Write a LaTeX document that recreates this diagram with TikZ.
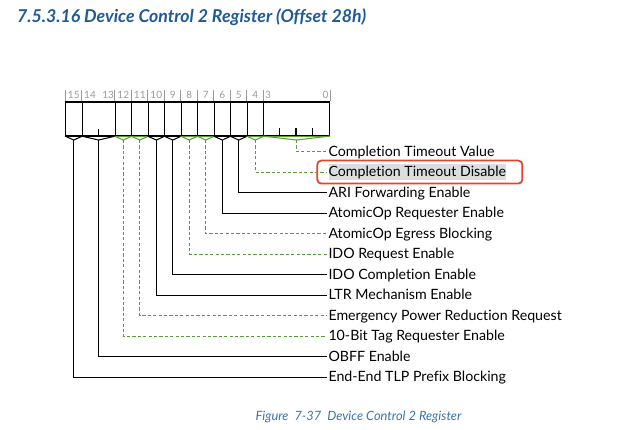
\documentclass[tikz,border=0pt]{standalone}
\usepackage{fontspec}
\setmainfont{Lato}[Ligatures={NoCommon}]
\usetikzlibrary{calc}
\definecolor{titleblue}{HTML}{1F5A96}
\definecolor{capblue}{HTML}{3A73AE}
\definecolor{rsvgreen}{HTML}{5A9A38}
\definecolor{hlred}{HTML}{E2462E}
\definecolor{bitgray}{HTML}{9A9A9A}
\definecolor{selgray}{HTML}{DDDDDD}
\begin{document}
\begin{tikzpicture}[x=1pt,y=-1pt,
  lw/.style={line width=1.05pt},
  sld/.style={solid},
  dsh/.style={dash pattern=on 3.2pt off 2.2pt},
  cellbox/.style={draw=black, lw, minimum height=33.5pt, inner sep=0pt, anchor=north west},
  bitnum/.style={text=bitgray, font=\fontsize{10}{10}\selectfont, inner sep=0pt},
  lblplain/.style={anchor=west, inner xsep=0pt, inner ysep=0pt, text height=13pt, text depth=3.3pt, font=\fontsize{14.2}{16}\selectfont},
  lblsel/.style={lblplain, fill=selgray},
]
\useasboundingbox (0,0) rectangle (637,430);

\node[anchor=base west, font=\fontsize{17.7}{20}\selectfont\bfseries\itshape, text=titleblue, inner sep=0pt] (title) at (17,23) {7.5.3.16 Device Control 2 Register (Offset 28h)};

\foreach \n/\hi/\lo/\col/\ds/\lf/\row/\txt in {
  15/15/15/black/sld/lblplain/11/End-End TLP Prefix Blocking,
  14/14/13/black/sld/lblplain/10/OBFF Enable,
  12/12/12/rsvgreen/dsh/lblplain/9/10-Bit Tag Requester Enable,
  11/11/11/rsvgreen/dsh/lblplain/8/Emergency Power Reduction Request,
  10/10/10/black/sld/lblplain/7/LTR Mechanism Enable,
  9/9/9/black/sld/lblplain/6/IDO Completion Enable,
  8/8/8/rsvgreen/dsh/lblplain/5/IDO Request Enable,
  7/7/7/rsvgreen/dsh/lblplain/4/AtomicOp Egress Blocking,
  6/6/6/black/sld/lblplain/3/AtomicOp Requester Enable,
  5/5/5/black/sld/lblplain/2/ARI Forwarding Enable,
  4/4/4/rsvgreen/dsh/lblsel/1/Completion Timeout Disable,
  3/3/0/rsvgreen/dsh/lblplain/0/Completion Timeout Value}{
  \pgfmathsetmacro\xl{65+(15-\hi)*16.5}
  \pgfmathsetmacro\fwd{(\hi-\lo+1)*16.5}
  \pgfmathsetmacro\ry{151.6+20.5*\row}
  \node[cellbox, minimum width=\fwd pt] (f\n) at (\xl,101.5) {};
  \draw[\col, lw] (f\n.south west) -- (f\n.south east);
  \draw[\col, lw] (f\n.south west) -- ($(f\n.south)+(0,4)$) coordinate (v\n) -- (f\n.south east);
  \node[\lf] (l\n) at (328.3,\ry) {\txt};
  \draw[\col, lw, \ds] (v\n) |- ([xshift=-1.5pt]l\n.west);
  \draw[bitgray, line width=0.6pt] (f\n.north west) -- ++(0,-11.5);
}
\draw[bitgray, line width=0.6pt] (f3.north east) -- ++(0,-11.5);

% bit numbers
\foreach \n in {15,12,11,10,9,8,7,6,5,4}{
  \node[bitnum] (b\n) at ($(f\n.north)+(0,-6.5)$) {\n};
}
\node[bitnum, anchor=west] (b14) at ($(f14.north west)+(2.5,-6.5)$) {14};
\node[bitnum, anchor=east] (b13) at ($(f14.north east)+(-1.5,-6.5)$) {13};
\node[bitnum, anchor=west] (b3) at ($(f3.north west)+(2,-6.5)$) {3};
\node[bitnum, anchor=east] (b0) at ($(f3.north east)+(-1.5,-6.5)$) {0};

% internal ticks
\draw[lw] (f14.south) -- ++(0,-7.5);
\foreach \k in {1,2,3}{
  \draw[lw] ($(f3.south west)+(16.5*\k,0)$) -- ++(0,-8);
}

% highlight box
\draw[hlred, line width=1.8pt, rounded corners=4pt] ($(l4.west)+(-11,-11.5)$) rectangle ($(l4.east)+(16,11.5)$);

\node[anchor=base, font=\fontsize{12.8}{14}\selectfont\itshape, text=capblue, inner sep=0pt] (cap) at (358.5,420) {Figure\ \ 7-37\ \ Device Control 2 Register};
\end{tikzpicture}
\end{document}
